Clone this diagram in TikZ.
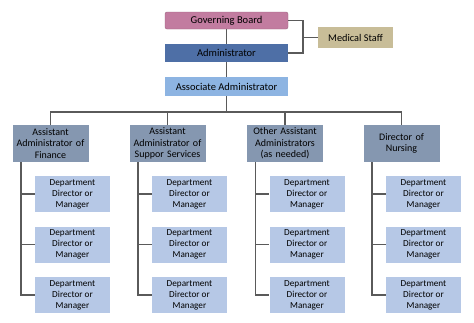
\documentclass[tikz,border=0pt]{standalone}
\usepackage{fontspec}
\setmainfont{Carlito}
\usetikzlibrary{positioning}

\definecolor{boardpink}{HTML}{C27CA0}
\definecolor{adminblue}{HTML}{4E6FA6}
\definecolor{assocblue}{HTML}{8DB4E2}
\definecolor{stafftan}{HTML}{C8BD98}
\definecolor{asstgray}{HTML}{8597B0}
\definecolor{deptblue}{HTML}{B6C8E6}
\definecolor{linkgray}{HTML}{5A5A5A}

\begin{document}
\begin{tikzpicture}[
    x=1pt, y=-1pt,
    box/.style={rectangle, inner sep=1pt, align=center, text=black, font=\fontsize{9.2}{11}\selectfont},
    topbox/.style={box, minimum width=123pt, font=\fontsize{10.5}{12}\selectfont},
    asstbox/.style={box, fill=asstgray, minimum width=75pt, minimum height=37pt, text width=74pt, font=\fontsize{10}{11.5}\selectfont},
    deptbox/.style={box, fill=deptblue, minimum width=75pt, minimum height=36pt},
    link/.style={draw=linkgray, line width=1.1pt},
]
\useasboundingbox (0,0) rectangle (474,322);

% Top of the chart
\node[topbox, fill=boardpink, draw=boardpink!80!black, rounded corners=2pt, minimum height=17pt] (board) at (226.5,20.5) {Governing Board};
\node[topbox, fill=adminblue, minimum height=18pt] (admin) at (226.5,53) {Administrator};
\node[topbox, fill=assocblue, minimum height=19pt] (assoc) at (226.5,86.5) {Associate Administrator};
\node[box, fill=stafftan, minimum width=75pt, minimum height=21pt, font=\fontsize{10.3}{12}\selectfont] (staff) at (355.5,37.5) {Medical Staff};

\coordinate (join) at (303,37.5);
\coordinate (bus) at (226.5,112);

\draw[link] (board) -- (admin);
\draw[link] (admin) -- (assoc);
\draw[link] (board) -| (join) |- (admin);
\draw[link] (join) -- (staff);
\draw[link] (assoc) -- (bus);

% Assistant administrators
\node[asstbox] (asstA) at (50.5,143.5) {Assistant\\Administrator of\\Finance};
\node[asstbox] (asstB) at (167.5,143.5) {Assistant\\Administrator of\\Suppor Services};
\node[asstbox] (asstC) at (285,143.5) {Other Assistant\\Administrators\\(as needed)};
\node[asstbox] (asstD) at (401.5,143.5) {Director of\\Nursing};

% Departments under each assistant
\foreach \col in {A,B,C,D} {
    \draw[link] (bus) -| (asst\col);
    \foreach \row/\ypos in {1/194,2/244.5,3/295} {
        \path (asst\col) ++(22,0) coordinate (c);
        \node[deptbox] (dept\col\row) at (c |- 0,\ypos) {Department\\Director or\\Manager};
        \draw[link] ([xshift=-29.5pt]asst\col.south) |- (dept\col\row);
    }
}

\end{tikzpicture}
\end{document}
